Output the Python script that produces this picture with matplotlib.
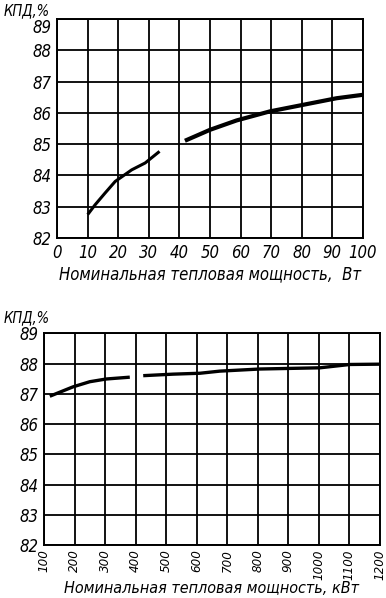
import matplotlib
matplotlib.use('Agg')
import matplotlib.pyplot as plt

plt.rcParams['font.family'] = ['DejaVu Sans']
plt.rcParams['font.style'] = 'italic'
plt.rcParams['font.stretch'] = 'condensed'

# top chart: small boilers, W
top_x1 = [10, 12.4, 15.7, 19, 24.4, 28.8, 33.5]
top_y1 = [82.75, 83.06, 83.44, 83.81, 84.18, 84.40, 84.77]
top_x2 = [41.8, 50, 58.7, 69.6, 80.5, 91.4, 100]
top_y2 = [85.11, 85.46, 85.76, 86.05, 86.26, 86.47, 86.58]
top_xticks = list(range(0, 101, 10))

# bottom chart: large boilers, kW
bot_x1 = [119, 195, 250, 304, 381]
bot_y1 = [86.92, 87.23, 87.40, 87.49, 87.55]
bot_x2 = [425, 523, 611, 676, 807, 1004, 1102, 1200]
bot_y2 = [87.60, 87.65, 87.68, 87.75, 87.82, 87.86, 87.97, 87.98]
bot_xticks = list(range(100, 1201, 100))

yticks = list(range(82, 90))

fig = plt.figure(figsize=(3.86, 5.98), dpi=100)


def style_axes(ax):
    ax.set_yticks(yticks)
    ax.set_ylim(82, 89)
    ax.grid(True, color='black', linewidth=1.3)
    for s in ax.spines.values():
        s.set_linewidth(1.4)
    ax.tick_params(length=0, labelsize=12, pad=4)


ax1 = fig.add_axes([0.148, 0.602, 0.792, 0.366])
ax1.set_xlim(0, 100)
ax1.set_xticks(top_xticks)
style_axes(ax1)
ax1.get_yticklabels()[-1].set_verticalalignment('top')
ax1.plot(top_x1, top_y1, color='black', linewidth=2.2, solid_capstyle='butt')
ax1.plot(top_x2, top_y2, color='black', linewidth=3.0, solid_capstyle='butt')
ax1.set_xlabel('Номинальная тепловая мощность,  Вт', fontsize=12, labelpad=3)
fig.text(0.01, 0.982, 'КПД,%', fontsize=10.5, ha='left', va='center')

ax2 = fig.add_axes([0.114, 0.0886, 0.870, 0.354])
ax2.set_xlim(100, 1200)
ax2.set_xticks(bot_xticks)
style_axes(ax2)
ax2.tick_params(axis='x', labelrotation=90, labelsize=9.5, pad=3)
ax2.plot(bot_x1, bot_y1, color='black', linewidth=2.4, solid_capstyle='butt')
ax2.plot(bot_x2, bot_y2, color='black', linewidth=2.4, solid_capstyle='butt')
ax2.set_xlabel('Номинальная тепловая мощность, кВт', fontsize=11.5, labelpad=1)
fig.text(0.01, 0.468, 'КПД,%', fontsize=10.5, ha='left', va='center')

fig.savefig('out.png', dpi=100)
